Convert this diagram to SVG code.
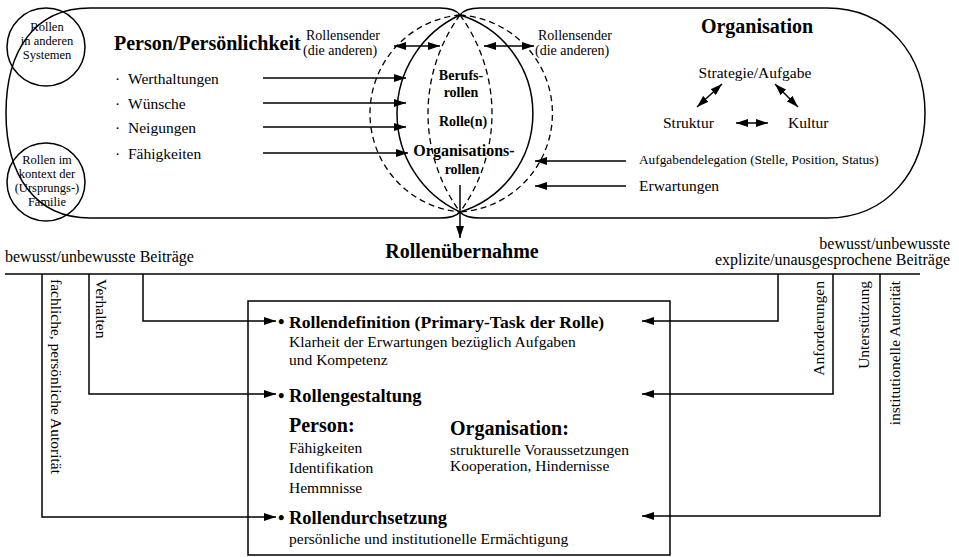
<svg xmlns="http://www.w3.org/2000/svg" width="959" height="557" viewBox="0 0 959 557">
<style>
text{font-family:"Liberation Serif","Times New Roman",serif;fill:#000}
.r{font-size:15.5px}
.s{font-size:14px}
.xs{font-size:13.3px}
.c{font-size:12.5px}
.b{font-weight:bold}
.h{font-size:20px;font-weight:bold}
.hb{font-size:18.5px;font-weight:bold}
.m{text-anchor:middle}
.e{text-anchor:end}
.ln{fill:none;stroke:#000;stroke-width:1.5}
.dash{fill:none;stroke:#000;stroke-width:1.3;stroke-dasharray:6 4}
.ar{fill:none;stroke:#000;stroke-width:1.5;marker-end:url(#ah)}
.da{fill:none;stroke:#000;stroke-width:1.5;marker-end:url(#ah);marker-start:url(#ah)}
</style>
<defs>
<marker id="ah" viewBox="0 0 12 8" markerWidth="12" markerHeight="8" refX="12" refY="4" orient="auto-start-reverse" markerUnits="userSpaceOnUse"><path d="M0,0 L12,4 L0,8 Z" fill="#000"/></marker>
</defs>
<rect width="959" height="557" fill="#fff"/>

<g id="person-shape">
<path class="ln" d="M90,8 L440,8 Q455,8 460,15 A103 103 0 0 1 460,212 Q455,218 440,218 L90,218 C35,218 6,175 6,113 C6,50 35,8 90,8 Z"/>
</g>
<g id="organisation-shape">
<path class="ln" d="M827,8 L480,8 Q465,8 460,15 A108.5 108.5 0 0 0 460,212 Q465,218 480,218 L827,218 C888,218 925,170 925,113 C925,56 888,8 827,8 Z"/>
</g>
<g id="rollen-ellipses">
<path class="dash" d="M460,15 A98.9 98.9 0 0 0 460,212"/>
<path class="dash" d="M460,15 A167.6 167.6 0 0 0 460,212"/>
<path class="dash" d="M460,15 A167.6 167.6 0 0 1 460,212"/>
<path class="dash" d="M460,15 A98.7 98.7 0 0 1 460,212"/>
<text class="s b m" x="461" y="80">Berufs-</text>
<text class="s b m" x="461" y="97">rollen</text>
<text class="s b m" x="463" y="126">Rolle(n)</text>
<text class="s b m" x="464" y="156" style="font-size:16px">Organisations-</text>
<text class="s b m" x="462" y="174">rollen</text>
</g>

<g id="circle-andere">
<circle class="ln" cx="46" cy="47" r="39" fill="#fff"/>
<text class="c m" x="47" y="31">Rollen</text>
<text class="c m" x="47" y="45">in anderen</text>
<text class="c m" x="47" y="59">Systemen</text>
</g>
<g id="circle-familie">
<circle class="ln" cx="46" cy="182" r="39" fill="#fff"/>
<text class="c m" x="47" y="164">Rollen im</text>
<text class="c m" x="47" y="178">kontext der</text>
<text class="c m" x="47" y="192">(Ursprungs-)</text>
<text class="c m" x="47" y="206">Familie</text>
</g>

<g id="person">
<text class="h" x="114" y="50">Person/Persönlichkeit</text>
<text class="r" x="115" y="84">·</text><text class="r" x="128" y="84">Werthaltungen</text>
<text class="r" x="115" y="109">·</text><text class="r" x="128" y="109">Wünsche</text>
<text class="r" x="115" y="133">·</text><text class="r" x="128" y="133">Neigungen</text>
<text class="r" x="115" y="159">·</text><text class="r" x="128" y="159">Fähigkeiten</text>
</g>

<g id="rollensender-links">
<text class="s" x="306" y="40">Rollensender</text>
<text class="s" x="303" y="55">(die anderen)</text>
</g>
<g id="rollensender-rechts">
<text class="s" x="538" y="40">Rollensender</text>
<text class="s" x="535" y="55">(die anderen)</text>
</g>

<g id="organisation">
<text class="h m" x="757" y="33">Organisation</text>
<text class="r m" x="755" y="78">Strategie/Aufgabe</text>
<text class="r" x="663" y="128">Struktur</text>
<text class="r" x="788" y="128">Kultur</text>
<text class="xs" x="639" y="164">Aufgabendelegation (Stelle, Position, Status)</text>
<text class="r" x="639" y="191">Erwartungen</text>
</g>

<g id="rollenuebernahme">
<text class="h m" x="462" y="258">Rollenübernahme</text>
</g>

<g id="beitraege-links">
<text class="r" x="5" y="262" style="font-size:16px">bewusst/unbewusste Beiträge</text>
<text class="r" x="51" y="279" transform="rotate(90 51 279)">fachliche, persönliche Autorität</text>
<text class="r" x="96" y="279" transform="rotate(90 96 279)">Verhalten</text>
</g>
<g id="beitraege-rechts">
<text class="r e" x="950" y="249" style="font-size:16px">bewusst/unbewusste</text>
<text class="r e" x="950" y="265" style="font-size:16px">explizite/unausgesprochene Beiträge</text>
<text class="r e" x="824" y="281" transform="rotate(-90 824 281)">Anforderungen</text>
<text class="r e" x="869" y="281" transform="rotate(-90 869 281)">Unterstützung</text>
<text class="r e" x="900" y="281" transform="rotate(-90 900 281)">institutionelle Autorität</text>
</g>

<g id="rollen-box">
<rect class="ln" x="248" y="301" width="422" height="254"/>
<text class="hb" x="278" y="328">•</text><text class="hb" x="289" y="328" style="font-size:17.6px">Rollendefinition (Primary-Task der Rolle)</text>
<text class="r" x="289" y="347">Klarheit der Erwartungen bezüglich Aufgaben</text>
<text class="r" x="289" y="365">und Kompetenz</text>
<text class="hb" x="278" y="402">•</text><text class="hb" x="289" y="402">Rollengestaltung</text>
<text class="h" x="289" y="432">Person:</text>
<text class="r" x="289" y="453">Fähigkeiten</text>
<text class="r" x="289" y="473">Identifikation</text>
<text class="r" x="289" y="493">Hemmnisse</text>
<text class="h" x="450" y="435">Organisation:</text>
<text class="r" x="450" y="455">strukturelle Voraussetzungen</text>
<text class="r" x="450" y="471">Kooperation, Hindernisse</text>
<text class="hb" x="278" y="524">•</text><text class="hb" x="289" y="524">Rollendurchsetzung</text>
<text class="r" x="289" y="544">persönliche und institutionelle Ermächtigung</text>
</g>

<g id="connectors">
<path class="ar" d="M263,78 H406"/>
<path class="ar" d="M263,103 H406"/>
<path class="ar" d="M263,127 H406"/>
<path class="ar" d="M263,153 H408"/>
<path class="da" d="M394,46 H440"/>
<path class="da" d="M484,46 H534"/>
<path class="da" d="M697,107 L722,84"/>
<path class="da" d="M775,84 L798,107"/>
<path class="da" d="M736,123 H768"/>
<path class="ar" d="M626,161 H535"/>
<path class="ar" d="M626,186 H535"/>
<path class="ar" d="M460,185 V238"/>
<path class="ln" d="M5,274 H920"/>
<path class="ar" d="M42,274 V517 H276"/>
<path class="ar" d="M89,274 V394 H276"/>
<path class="ar" d="M143,274 V321 H276"/>
<path class="ar" d="M778,274 V321 H642"/>
<path class="ar" d="M833,274 V394 H642"/>
<path class="ar" d="M880,274 V516 H642"/>
</g>
</svg>
